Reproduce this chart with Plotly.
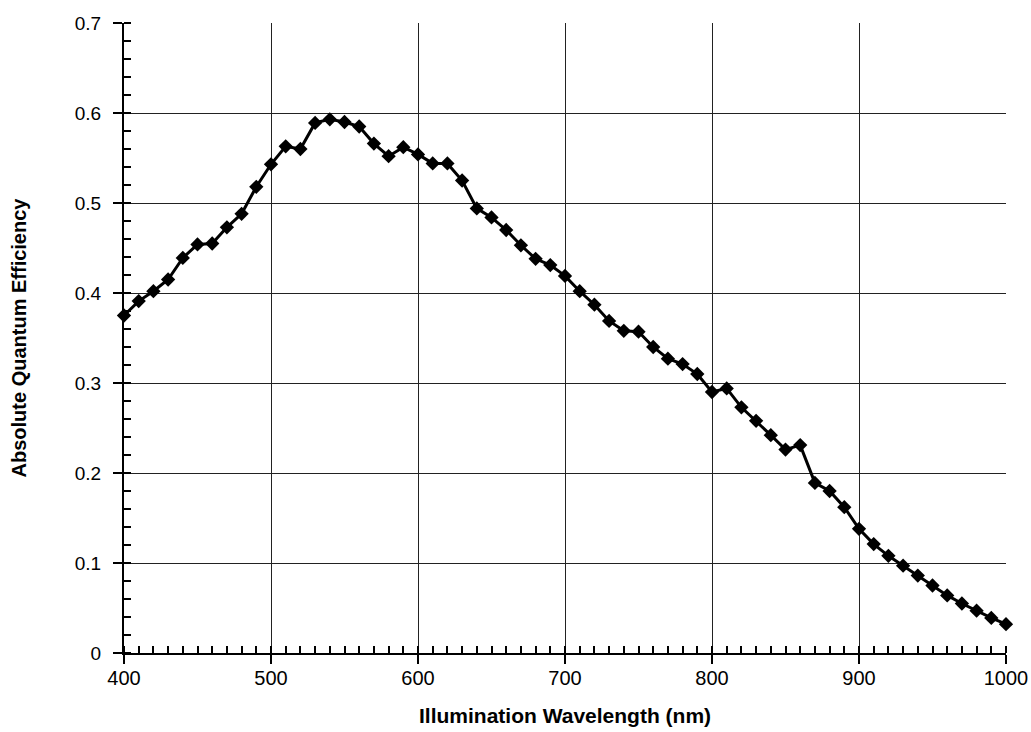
import plotly.graph_objects as go

wavelength_nm = list(range(400, 1001, 10))
quantum_efficiency = [
    0.375, 0.391, 0.402, 0.415, 0.439, 0.454, 0.455, 0.473, 0.488, 0.518,
    0.543, 0.563, 0.560, 0.589, 0.593, 0.590, 0.585, 0.566, 0.552, 0.562,
    0.554, 0.544, 0.544, 0.525, 0.494, 0.484, 0.470, 0.453, 0.438, 0.431,
    0.419, 0.402, 0.387, 0.369, 0.358, 0.357, 0.340, 0.327, 0.321, 0.310,
    0.290, 0.294, 0.273, 0.258, 0.242, 0.226, 0.231, 0.189, 0.180, 0.162,
    0.138, 0.121, 0.108, 0.097, 0.086, 0.075, 0.064, 0.055, 0.047, 0.039,
    0.032,
]
x_tick_values = [400, 500, 600, 700, 800, 900, 1000]
x_tick_labels = ["400", "500", "600", "700", "800", "900", "1000"]
y_tick_values = [0, 0.1, 0.2, 0.3, 0.4, 0.5, 0.6, 0.7]
y_tick_labels = ["0", "0.1", "0.2", "0.3", "0.4", "0.5", "0.6", "0.7"]
x_title = "Illumination Wavelength (nm)"
y_title = "Absolute Quantum Efficiency"

fig = go.Figure()
fig.add_trace(go.Scatter(
    x=wavelength_nm, y=quantum_efficiency, mode="lines+markers",
    line=dict(color="#000000", width=3),
    marker=dict(symbol="diamond", size=11, color="#000000"),
    showlegend=False, cliponaxis=False,
))

font_family = "Liberation Sans, Arial, Helvetica, sans-serif"
fig.update_layout(
    width=1031, height=732,
    margin=dict(l=124, r=25, t=23, b=79),
    paper_bgcolor="white", plot_bgcolor="white",
    font=dict(family=font_family, size=19, color="#000000"),
)
fig.update_xaxes(
    range=[400, 1000], tickmode="array", tickvals=x_tick_values, ticktext=x_tick_labels,
    automargin=False, ticklabelstandoff=-3, tickfont=dict(size=20),
    showgrid=True, gridcolor="#222222", gridwidth=1,
    showline=True, linecolor="#000000", linewidth=2,
    ticks="outside", ticklen=9, tickwidth=2, tickcolor="#000000",
    minor=dict(dtick=10, tick0=400, ticks="inside", ticklen=7, tickwidth=1.5, tickcolor="#000000", showgrid=False),
    zeroline=False,
)
fig.update_yaxes(
    range=[0, 0.7], tickmode="array", tickvals=y_tick_values, ticktext=y_tick_labels,
    automargin=False, ticklabelstandoff=8,
    showgrid=True, gridcolor="#222222", gridwidth=1,
    showline=True, linecolor="#000000", linewidth=2,
    ticks="outside", ticklen=9, tickwidth=2, tickcolor="#000000",
    minor=dict(dtick=0.02, tick0=0, ticks="inside", ticklen=7, tickwidth=1.5, tickcolor="#000000", showgrid=False),
    zeroline=False,
    title=dict(text="<b>" + y_title + "</b>", font=dict(size=20), standoff=43),
)
fig.add_annotation(
    text="<b>" + x_title + "</b>", xref="paper", yref="paper", x=0.5, y=0,
    xanchor="center", yanchor="middle", yshift=-62, showarrow=False,
    font=dict(size=21),
)

fig.write_html(
    "out.html",
    config={"displayModeBar": False},
    post_script="document.body.style.margin='0';document.documentElement.style.overflow='hidden';",
)
